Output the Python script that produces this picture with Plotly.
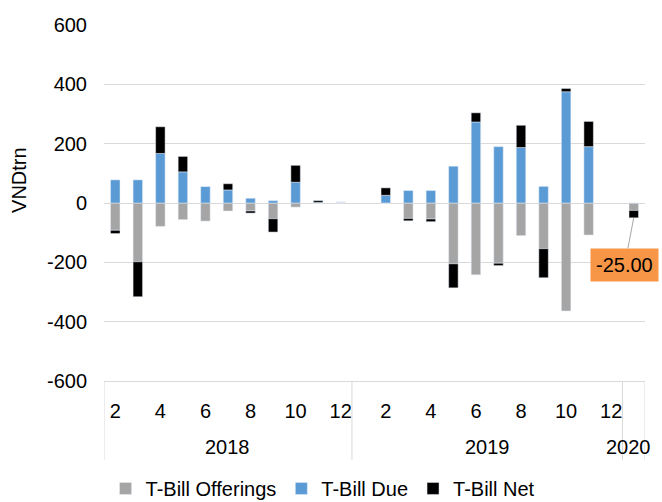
import plotly.graph_objects as go

# Calendar of the months shown, grouped by year
years = ["2018", "2019", "2020"]
months_2018 = [2, 3, 4, 5, 6, 7, 8, 9, 10, 11, 12]
months_2019 = [1, 2, 3, 4, 5, 6, 7, 8, 9, 10, 11, 12]
months_2020 = [1]

# T-bill flows, VND trillion (offerings shown as negative)
offerings_2018 = [-92, -198, -79, -56, -61, -27, -27, -53, -14, 0, 3]
offerings_2019 = [None, 0, -52, -54, -205, -242, -203, -110, -154, -364, -108, None]
offerings_2020 = [-25]

due_2018 = [78, 78, 167, 105, 56, 44, 16, 8, 70, 2, 0]
due_2019 = [None, 26, 42, 42, 124, 273, 190, 187, 56, 375, 190, None]
due_2020 = [0]

net_2018 = [-11, -118, 90, 52, 0, 21, -7, -45, 57, 6, 0]
net_2019 = [None, 25, -8, -9, -81, 31, -8, 75, -98, 11, 85, None]
net_2020 = [-25]

# Value axis ticks
y_ticks = [-600, -400, -200, 0, 200, 400, 600]

month_groups = [months_2018, months_2019, months_2020]
months = months_2018 + months_2019 + months_2020
offerings = offerings_2018 + offerings_2019 + offerings_2020
due = due_2018 + due_2019 + due_2020
net = net_2018 + net_2019 + net_2020
pos = list(range(len(months)))

GRID = "#d9d9d9"
FONT = "Liberation Sans, Arial, sans-serif"

fig = go.Figure()
fig.add_trace(go.Bar(x=pos, y=offerings, name="T-Bill Offerings", marker_color="#a5a5a5"))
fig.add_trace(go.Bar(x=pos, y=due, name="T-Bill Due", marker_color="#5b9bd5"))
fig.add_trace(go.Bar(x=pos, y=net, name="T-Bill Net", marker_color="#000000"))

# Year group labels and dividers under the month ticks
shapes = []
annotations = []
start = 0
bounds = [-0.5]
for i, (yr, grp) in enumerate(zip(years, month_groups)):
    end = start + len(grp) - 1
    bounds.append(end + 0.5)
    annotations.append(dict(
        x=(start + end) / 2, y=-0.185, xref="x", yref="paper",
        text=yr, showarrow=False, xanchor="center", yanchor="middle",
        xshift=-5 if i == len(years) - 1 else 0,
        font=dict(size=20, color="black", family=FONT),
    ))
    start = end + 1
for b in bounds:
    shapes.append(dict(type="line", xref="x", yref="paper", x0=b, x1=b,
                       y0=0, y1=-0.222, line=dict(color=GRID, width=1)))

# Callout for the latest net figure
last = len(pos) - 1
annotations.append(dict(
    x=pos[last], y=offerings[last] + due[last] + net[last], xref="x", yref="y",
    text=f"{net[last]:.2f}", showarrow=True, arrowhead=0, arrowwidth=1,
    arrowcolor="#a6a6a6", ax=-9, ay=47, standoff=0,
    bgcolor="#f79646", borderpad=5,
    font=dict(size=20, color="black", family=FONT),
))

# Vertical axis title
annotations.append(dict(
    x=-0.157, y=0.565, xref="paper", yref="paper", text="VNDtrn",
    textangle=-90, showarrow=False, xanchor="center", yanchor="middle",
    font=dict(size=20, color="black", family=FONT),
))

fig.update_layout(
    width=662, height=502,
    margin=dict(l=104, r=17, t=25, b=121),
    paper_bgcolor="white", plot_bgcolor="white",
    barmode="relative", bargap=0.58,
    font=dict(family=FONT, size=20, color="black"),
    shapes=shapes, annotations=annotations,
    legend=dict(orientation="h", xref="container", yref="container",
                x=0.488, xanchor="center", y=0.027, yanchor="middle",
                font=dict(size=20, color="black"), traceorder="normal",
                itemwidth=30),
)
fig.update_yaxes(
    range=[-600, 600], tickmode="array", tickvals=y_ticks,
    ticktext=[str(v) for v in y_ticks], showgrid=True, gridcolor=GRID,
    gridwidth=1, zeroline=True, zerolinecolor=GRID, zerolinewidth=1,
    showline=False, ticks="", ticklabelstandoff=16,
)
fig.update_xaxes(
    range=[-0.5, len(pos) - 0.5], tickmode="array",
    tickvals=pos[::2], ticktext=[str(m) for m in months[::2]],
    showgrid=False, zeroline=False, showline=True, linecolor=GRID,
    linewidth=1, ticks="", ticklabelstandoff=12,
)

fig.write_html("out.html")
